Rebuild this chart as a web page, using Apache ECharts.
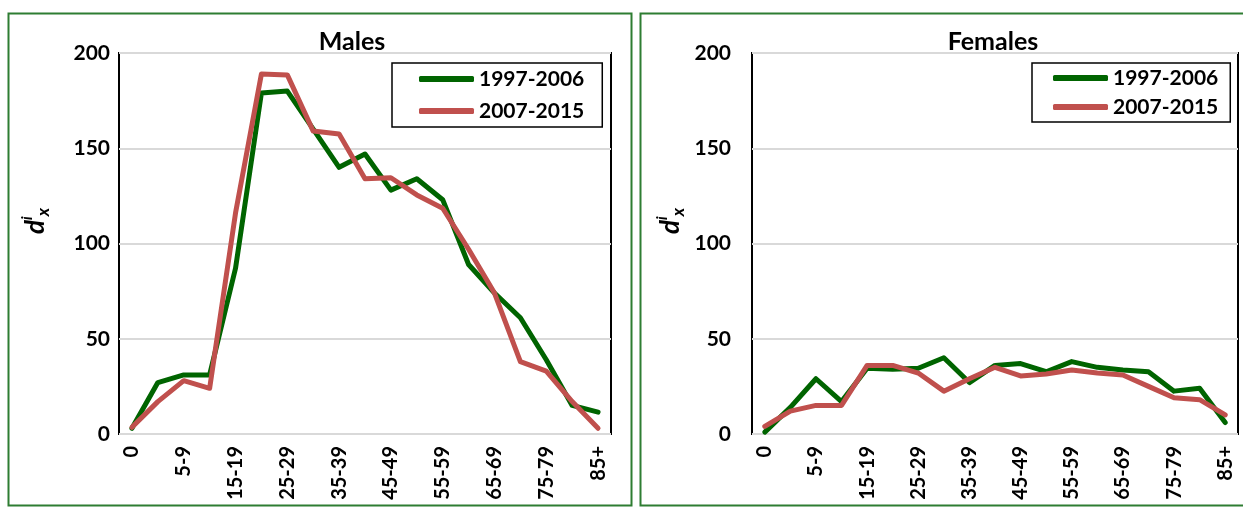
<!DOCTYPE html>
<html>
<head>
<meta charset="utf-8">
<script src="https://cdn.jsdelivr.net/npm/echarts@6/dist/echarts.min.js"></script>
<style>
html,body{margin:0;padding:0;background:#fff;}
#chart{width:1243px;height:507px;}
</style>
</head>
<body>
<div id="chart"></div>
<script>
const categories = ['0','1-4','5-9','10-14','15-19','20-24','25-29','30-34','35-39','40-44','45-49','50-54','55-59','60-64','65-69','70-74','75-79','80-84','85+'];
const seriesNames = ['1997-2006','2007-2015'];
const malesP1 = [3, 27, 31, 31, 87, 179, 180, 160, 140, 147, 128, 134, 123, 89, 74, 61, 39, 15, 11.5];
const malesP2 = [3.5, 17, 28, 24, 116, 189, 188.5, 159, 157.5, 134, 134.5, 125.5, 118.5, 97, 74, 38, 33, 17, 3];
const femalesP1 = [1, 14, 29, 17, 34.5, 34, 34.5, 40, 27, 36, 37, 32.7, 38, 35, 33.6, 32.7, 22.5, 24, 6];
const femalesP2 = [4, 12, 15, 15, 36, 36, 32, 22.5, 29, 35, 30.5, 31.5, 33.6, 32, 31, 25, 19, 18, 10];
const yTicks = {min: 0, max: 200, interval: 50};
const panelTitles = ['Males', 'Females'];

const FONT = 'Lato';
const GREEN = '#006400';
const RED = '#C0504D';

const chart = echarts.init(document.getElementById('chart'), null, {renderer: 'canvas'});

function yAxis(gridIndex, margin) {
  return {
    type: 'value', gridIndex, min: yTicks.min, max: yTicks.max, interval: yTicks.interval,
    axisLine: {show: false}, axisTick: {show: false},
    axisLabel: {color: '#000', fontFamily: FONT, fontWeight: 'bold', fontSize: 21, margin},
    splitLine: {show: true, lineStyle: {color: '#D9D9D9', width: 2}}
  };
}
function xAxis(gridIndex) {
  return {
    type: 'category', gridIndex, data: categories, boundaryGap: true,
    axisLine: {show: false}, axisTick: {show: false},
    axisLabel: {interval: 1, rotate: 90, color: '#000', fontFamily: FONT, fontWeight: 'bold', fontSize: 20, margin: 12}
  };
}
function line(name, data, idx, color) {
  return {
    type: 'line', name, data, xAxisIndex: idx, yAxisIndex: idx,
    symbol: 'none', smooth: false,
    lineStyle: {color, width: 5, cap: 'round', join: 'round'},
    itemStyle: {color}
  };
}
function legend(idx, left, top, padding, gap) {
  return {
    id: 'lg' + idx,
    left, top, orient: 'vertical',
    data: seriesNames.map(n => ({name: n, icon: 'roundRect'})),
    itemWidth: 55, itemHeight: 6, itemGap: gap,
    padding, borderColor: '#000', borderWidth: 1.5, backgroundColor: '#fff',
    textStyle: {color: '#000', fontFamily: FONT, fontWeight: 'bold', fontSize: 21, lineHeight: 24},
    selectedMode: false
  };
}
function yName(x, y) {
  return {
    type: 'text', x, y, rotation: Math.PI / 2,
    style: {
      text: '{d|d}{i|i}{x|x}', align: 'center', verticalAlign: 'middle',
      rich: {
        d: {fontFamily: FONT, fontWeight: 'bold', fontStyle: 'italic', fontSize: 26, lineHeight: 32, fill: '#000'},
        i: {fontFamily: FONT, fontWeight: 'bold', fontStyle: 'italic', fontSize: 15, verticalAlign: 'top', fill: '#000'},
        x: {fontFamily: FONT, fontWeight: 'bold', fontStyle: 'italic', fontSize: 17, verticalAlign: 'bottom', fill: '#000'}
      }
    }
  };
}

const option = {
  backgroundColor: '#fff',
  animation: false,
  title: [
    {text: panelTitles[0], left: 347, top: 24, textAlign: 'center', textStyle: {fontFamily: FONT, fontWeight: 'bold', fontSize: 25, color: '#000'}},
    {text: panelTitles[1], left: 988, top: 24, textAlign: 'center', textStyle: {fontFamily: FONT, fontWeight: 'bold', fontSize: 25, color: '#000'}}
  ],
  grid: [
    {left: 119, top: 53, width: 492, height: 381, show: true, borderColor: '#000', borderWidth: 2, backgroundColor: 'transparent'},
    {left: 752, top: 53, width: 486, height: 381, show: true, borderColor: '#000', borderWidth: 2, backgroundColor: 'transparent'}
  ],
  xAxis: [xAxis(0), xAxis(1)],
  yAxis: [yAxis(0, 9), yAxis(1, 21)],
  legend: [
    legend(0, 392, 63, [4, 18, 4, 27], 8),
    legend(1, 1032, 63, [3, 12, 3, 21], 5)
  ],
  series: [
    line(seriesNames[0], malesP1, 0, GREEN),
    line(seriesNames[1], malesP2, 0, RED),
    line(seriesNames[0], femalesP1, 1, GREEN),
    line(seriesNames[1], femalesP2, 1, RED)
  ],
  graphic: [
    {type: 'rect', shape: {x: 8.5, y: 13.5, width: 623, height: 492}, style: {fill: 'none', stroke: '#2E7D32', lineWidth: 2}, z: -1},
    {type: 'rect', shape: {x: 640.5, y: 13.5, width: 610, height: 492}, style: {fill: 'none', stroke: '#2E7D32', lineWidth: 2}, z: -1},
    yName(36, 221),
    yName(671, 221)
  ]
};
chart.setOption(option);
</script>
</body>
</html>
